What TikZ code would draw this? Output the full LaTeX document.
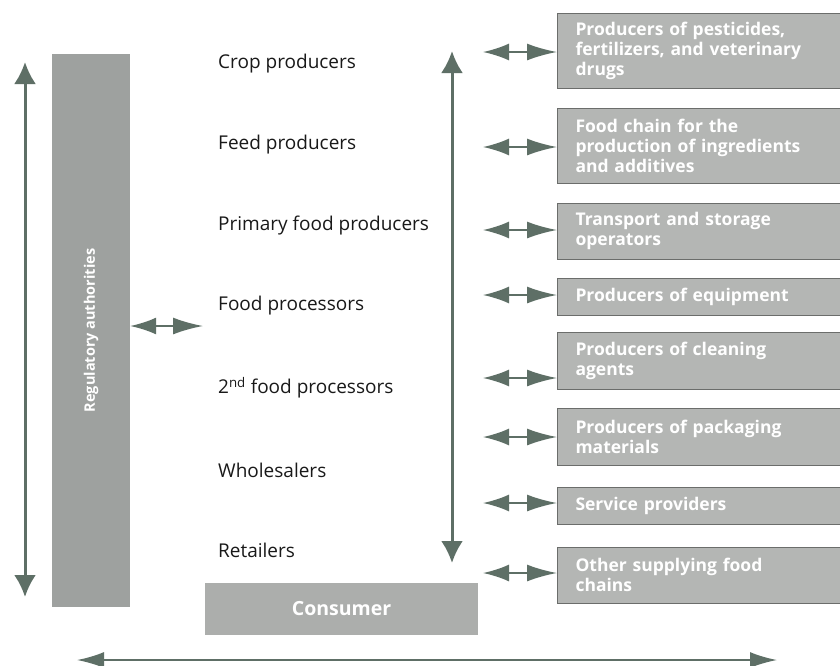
\documentclass[tikz,border=0pt]{standalone}
\usepackage{fontspec}
\setmainfont{Open Sans}
\usetikzlibrary{arrows.meta}
\definecolor{arrowc}{HTML}{5E6F66}
\definecolor{boxfill}{HTML}{B4B6B4}
\definecolor{boxline}{HTML}{6B6D6B}
\definecolor{regfill}{HTML}{9EA19F}
\definecolor{consfill}{HTML}{ACAEAC}
\begin{document}
\begin{tikzpicture}[x=1pt,y=-1pt,
 chainlabel/.style={anchor=west, inner sep=0pt, font=\fontsize{19}{22}\selectfont, text=black!90},
 supplybox/.style={draw=boxline, line width=1pt, fill=boxfill, anchor=west, text width=264pt, inner xsep=18pt, inner ysep=0pt, align=left, text=white, font=\bfseries\fontsize{17.5}{20}\selectfont},
 duo/.style={arrowc, line width=2pt, {Latex[length=26pt,width=17pt]}-{Latex[length=30pt,width=17pt]}},
 longarrow/.style={arrowc, line width=3pt, {Latex[length=22pt,width=22pt]}-{Latex[length=22pt,width=22pt]}},
 bottomarrow/.style={arrowc, line width=2pt, {Latex[length=27pt,width=16pt]}-{Latex[length=27pt,width=16pt]}},
 greybox/.style={inner sep=0pt, text=white, font=\bfseries\fontsize{19.5}{22}\selectfont}
]
\useasboundingbox (0,0) rectangle (840,665);
\fill[white] (0,0) rectangle (840,665);

% regulatory authorities
\node[greybox, fill=regfill, rotate=90, minimum width=553pt, minimum height=78pt,
      font=\bfseries\fontsize{14.5}{17}\selectfont] (reg) at (91,330.5) {Regulatory authorities};
\coordinate (lefttop) at (25,62);
\coordinate (leftbot) at (25,597);
\draw[longarrow] (leftbot) -- (lefttop);

% chain labels
\node[chainlabel] (crop) at (218,64) {Crop producers};
\node[chainlabel] (feed) at (218,145) {Feed producers};
\node[chainlabel] (prim) at (218,226) {Primary food producers};
\node[chainlabel] (proc) at (218,306) {Food processors};
\node[chainlabel] (proc2) at (218,388) {2\textsuperscript{nd} food processors};
\node[chainlabel] (whole) at (218,470) {Wholesalers};
\node[chainlabel] (retail) at (218,550) {Retailers};

\coordinate (chaintop) at (452,51);
\coordinate (chainbot) at (452,563);
\draw[longarrow] (chaintop) -- (chainbot);

% regulatory link
\coordinate (regend) at (203,326);
\draw[duo] (regend -| reg.south) -- (regend);

% consumer
\node[greybox, fill=consfill, minimum width=273pt, minimum height=52pt] (cons) at (341.5,609) {Consumer};

% supply boxes
\node[supplybox, minimum height=75pt] (b1) at (557,50.5) {Producers of pesticides,\\fertilizers, and veterinary\\drugs};
\node[supplybox, minimum height=75pt] (b2) at (557,145.5) {Food chain for the\\production of ingredients\\and additives};
\node[supplybox, minimum height=56pt] (b3) at (557,231) {Transport and storage\\operators};
\node[supplybox, minimum height=37pt] (b4) at (557,296.5) {Producers of equipment};
\node[supplybox, minimum height=57pt] (b5) at (557,360.5) {Producers of cleaning\\agents};
\node[supplybox, minimum height=57pt] (b6) at (557,436.5) {Producers of packaging\\materials};
\node[supplybox, minimum height=37pt] (b7) at (557,505.5) {Service providers};
\node[supplybox, minimum height=56pt] (b8) at (557,575) {Other supplying food\\chains};

\coordinate (a1) at (483,52);
\coordinate (a2) at (483,147);
\coordinate (a3) at (483,230);
\coordinate (a4) at (483,295);
\coordinate (a5) at (483,378);
\coordinate (a6) at (483,437);
\coordinate (a7) at (483,503);
\coordinate (a8) at (483,573);
\foreach \i in {1,...,8} {
  \draw[duo] (a\i) -- (a\i -| b\i.west);
}

% bottom arrow
\coordinate (bl) at (77,660);
\coordinate (br) at (777,660);
\draw[bottomarrow] (bl) -- (br);
\end{tikzpicture}
\end{document}
